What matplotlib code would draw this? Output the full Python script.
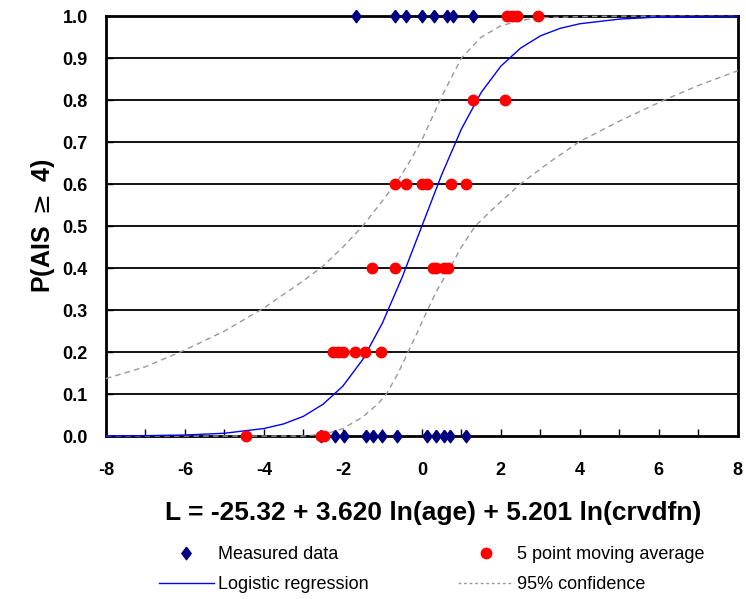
import numpy as np
import matplotlib
matplotlib.use('Agg')
import matplotlib.pyplot as plt
from matplotlib.lines import Line2D

plt.rcParams['font.family'] = ['Liberation Sans', 'DejaVu Sans']
plt.rcParams['axes.unicode_minus'] = False

# measured outcomes (0 / 1) against L
meas_one_x = [-1.66, -0.67, -0.39, 0.01, 0.30, 0.63, 0.79, 1.30]
meas_zero_x = [-2.55, -2.21, -1.98, -1.41, -1.24, -1.02, -0.64, 0.12, 0.37, 0.57, 0.71, 1.13]

# 5 point moving average
avg_x = [-4.45, -2.55, -2.48,
         -2.24, -2.12, -2.00, -1.69, -1.43, -1.03,
         -1.26, -0.69, 0.29, 0.36, 0.57, 0.66,
         -0.69, -0.39, 0.00, 0.12, 0.75, 1.11,
         1.29, 2.11,
         2.15, 2.28, 2.42, 2.93]
avg_y = [0.0, 0.0, 0.0,
         0.2, 0.2, 0.2, 0.2, 0.2, 0.2,
         0.4, 0.4, 0.4, 0.4, 0.4, 0.4,
         0.6, 0.6, 0.6, 0.6, 0.6, 0.6,
         0.8, 0.8,
         1.0, 1.0, 1.0, 1.0]

# logistic regression curve
fit_L = [-8, -7, -6, -5, -4, -3.5, -3, -2.5, -2, -1.5, -1, -0.5, 0,
         0.5, 1, 1.5, 2, 2.5, 3, 3.5, 4, 5, 6, 7, 8]
fit_p = [0.0003, 0.001, 0.0025, 0.0067, 0.018, 0.029, 0.047, 0.076, 0.119,
         0.182, 0.269, 0.378, 0.5, 0.622, 0.731, 0.818, 0.881, 0.924, 0.953,
         0.971, 0.982, 0.993, 0.998, 0.999, 1.0]

# 95% confidence bands
upper_L = [-8, -7, -6, -5, -4, -3, -2.5, -2, -1.5, -1, -0.6, -0.3, 0,
           0.5, 1, 1.5, 2, 2.5, 3, 4, 5, 6, 8]
upper_p = [0.137, 0.165, 0.205, 0.25, 0.305, 0.37, 0.405, 0.45, 0.50, 0.56,
           0.61, 0.655, 0.705, 0.808, 0.90, 0.95, 0.977, 0.99, 0.996, 0.999,
           1.0, 1.0, 1.0]
lower_L = [-8, -4, -3, -2.5, -2.26, -2, -1.5, -1.1, -0.9, -0.6, -0.35, -0.1,
           0.14, 0.4, 0.71, 1.0, 1.35, 1.9, 2.49, 3.2, 3.97, 5, 6.13, 7, 8]
lower_p = [0.0, 0.0, 0.0, 0.005, 0.01, 0.018, 0.045, 0.078, 0.10, 0.15, 0.2,
           0.25, 0.3, 0.35, 0.4, 0.45, 0.5, 0.55, 0.6, 0.65, 0.7, 0.75, 0.8,
           0.835, 0.87]

navy = '#000080'
diamond = [(0, 1), (0.75, 0), (0, -1), (-0.75, 0), (0, 1)]

fig = plt.figure(figsize=(7.46, 5.99), dpi=100)
ax = fig.add_axes([0.142, 0.272, 0.847, 0.701])

# horizontal grid
for g in np.arange(0.1, 1.0, 0.1):
  ax.axhline(g, color='black', lw=1.3, zorder=1)

ax.plot(upper_L, upper_p, color='#999999', lw=1.0, dashes=(4, 3), zorder=4, clip_on=False)
ax.plot(lower_L, lower_p, color='#999999', lw=1.0, dashes=(4, 3), zorder=4, clip_on=False)
ax.plot(fit_L, fit_p, color='#0000ff', lw=1.0, zorder=4, clip_on=False)

ax.plot(meas_one_x, [1.0] * len(meas_one_x), ls='none', marker=diamond, ms=9,
        color=navy, zorder=5, clip_on=False)
ax.plot(meas_zero_x, [0.0] * len(meas_zero_x), ls='none', marker=diamond, ms=9,
        color=navy, zorder=5, clip_on=False)
ax.plot(avg_x, avg_y, ls='none', marker='o', ms=7.5, color='#ff0000',
        zorder=6, clip_on=False)

ax.set_xlim(-8, 8)
ax.set_ylim(0, 1)
ax.set_xticks(np.arange(-8, 9, 2))
ax.set_xticks(np.arange(-8, 9, 1), minor=True)
ax.set_yticks(np.arange(0, 1.01, 0.1))
ax.set_yticklabels(['%.1f' % v for v in np.arange(0, 1.01, 0.1)])
ax.tick_params(axis='both', which='both', direction='in', length=5, width=1,
               labelsize=13)
ax.tick_params(axis='x', pad=19)
ax.tick_params(axis='y', pad=13)
for lab in ax.get_xticklabels() + ax.get_yticklabels():
  lab.set_fontweight('bold')
for s in ax.spines.values():
  s.set_linewidth(2)

ax.set_xlabel('L = -25.32 + 3.620 ln(age) + 5.201 ln(crvdfn)', fontsize=19,
              fontweight='bold')
ax.xaxis.set_label_coords(0.518, -0.155)
ax.set_ylabel('P(AIS $\\geq$ 4)', fontsize=18, fontweight='bold')
ax.yaxis.set_label_coords(-0.077, 0.5)

handles = [
  Line2D([], [], ls='none', marker=diamond, ms=9, color=navy),
  Line2D([], [], color='#0000ff', lw=1.0),
  Line2D([], [], ls='none', marker='o', ms=7.5, color='#ff0000'),
  Line2D([], [], color='#999999', lw=1.0, dashes=(2, 2)),
]
labels = ['Measured data', 'Logistic regression', '5 point moving average', '95% confidence']
fig.legend(handles, labels, loc='upper left', bbox_to_anchor=(0.213, 0.088),
           ncol=2, frameon=False, fontsize=13, handlelength=3.05,
           handletextpad=0.2, columnspacing=5.0, labelspacing=0.72,
           borderpad=0, borderaxespad=0)

fig.savefig('out.png', dpi=100)
